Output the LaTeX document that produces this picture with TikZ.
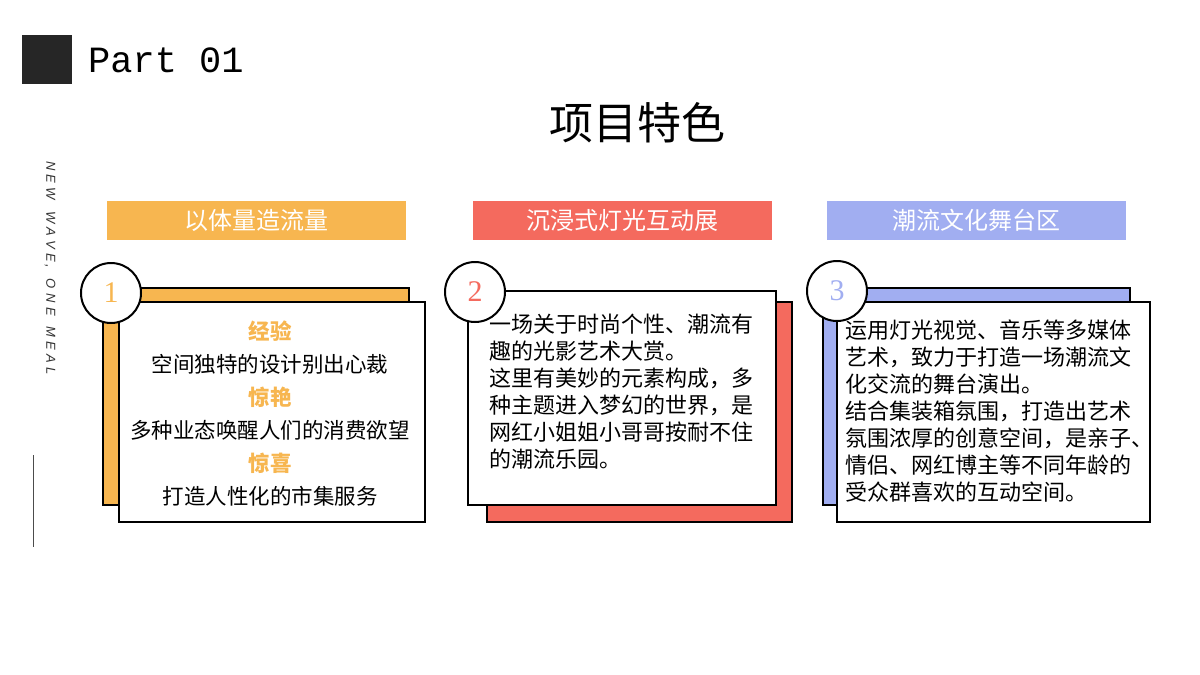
\documentclass[tikz,border=0pt]{standalone}
\usepackage{fontspec}
\setmainfont{Liberation Sans}
\newfontfamily\cjk{Noto Sans CJK SC}
\newfontfamily\monof{Liberation Mono}
\newfontfamily\serf{Liberation Serif}
\definecolor{cO}{HTML}{F7B650}
\definecolor{cR}{HTML}{F46A5E}
\definecolor{cB}{HTML}{A1AEF1}
\begin{document}
\begin{tikzpicture}[x=1pt,y=-1pt,
  hdr/.style={minimum width=299pt,minimum height=39pt,inner sep=0,text=white,font=\cjk\fontsize{24}{24}\selectfont,anchor=north west},
  card/.style={draw=black,line width=2.2pt},
  num/.style={circle,draw=black,line width=2pt,fill=white,minimum size=60pt,inner sep=0,font=\serf\fontsize{30}{30}\selectfont},
  body/.style={font=\cjk\fontsize{22}{27}\selectfont,align=left,anchor=north west,inner sep=0}]
\useasboundingbox (0,0) rectangle (1200,675);
\fill[white] (0,0) rectangle (1200,675);
\fill[black!85] (22,35) rectangle (72,84);
\node[anchor=west,inner sep=0,font=\monof\fontsize{37}{37}\selectfont] (part) at (88,60) {Part 01};
\node[font=\cjk\fontsize{44}{44}\selectfont,inner sep=0] (title) at (637,123) {项目特色};
\node[rotate=-90,anchor=west,inner sep=0,font=\itshape\fontsize{13}{13}\selectfont,text=black!80] (nw) at (50,161) {N\,\,E\,\,W\ \ \ W\,\,A\,\,V\,\,E\,,\ \ \ O\,\,N\,\,E\ \ \ M\,\,E\,\,A\,\,L};
\draw[black!70,line width=1pt] (33,455) -- (33,547);
% headers
\node[hdr,fill=cO] (h1) at (107,201) {以体量造流量};
\node[hdr,fill=cR] (h2) at (473,201) {沉浸式灯光互动展};
\node[hdr,fill=cB] (h3) at (827,201) {潮流文化舞台区};
% card 1
\draw[card,fill=cO] (103,288) rectangle (409,505);
\draw[card,fill=white] (119,302) rectangle (425,522);
\node[num,text=cO] (n1) at (111,293) {1};
\node[align=center,inner sep=0,font=\cjk\fontsize{21.5}{33}\selectfont] (t1) at (270,414) {{\color{cO}\bfseries 经验}\\空间独特的设计别出心裁\\{\color{cO}\bfseries 惊艳}\\多种业态唤醒人们的消费欲望\\{\color{cO}\bfseries 惊喜}\\打造人性化的市集服务};
% card 2
\draw[card,fill=cR] (487,302) rectangle (792,522);
\draw[card,fill=white] (468,291) rectangle (776,505);
\node[num,text=cR] (n2) at (475,292) {2};
\node[body] (t2) at (489,314) {一场关于时尚个性、潮流有\\趣的光影艺术大赏。\\这里有美妙的元素构成，多\\种主题进入梦幻的世界，是\\网红小姐姐小哥哥按耐不住\\的潮流乐园。};
% card 3
\draw[card,fill=cB] (823,288) rectangle (1130,505);
\draw[card,fill=white] (837,302) rectangle (1150,522);
\node[num,text=cB] (n3) at (837,291) {3};
\node[body] (t3) at (845,320) {运用灯光视觉、音乐等多媒体\\艺术，致力于打造一场潮流文\\化交流的舞台演出。\\结合集装箱氛围，打造出艺术\\氛围浓厚的创意空间，是亲子、\\情侣、网红博主等不同年龄的\\受众群喜欢的互动空间。};
\end{tikzpicture}
\end{document}
